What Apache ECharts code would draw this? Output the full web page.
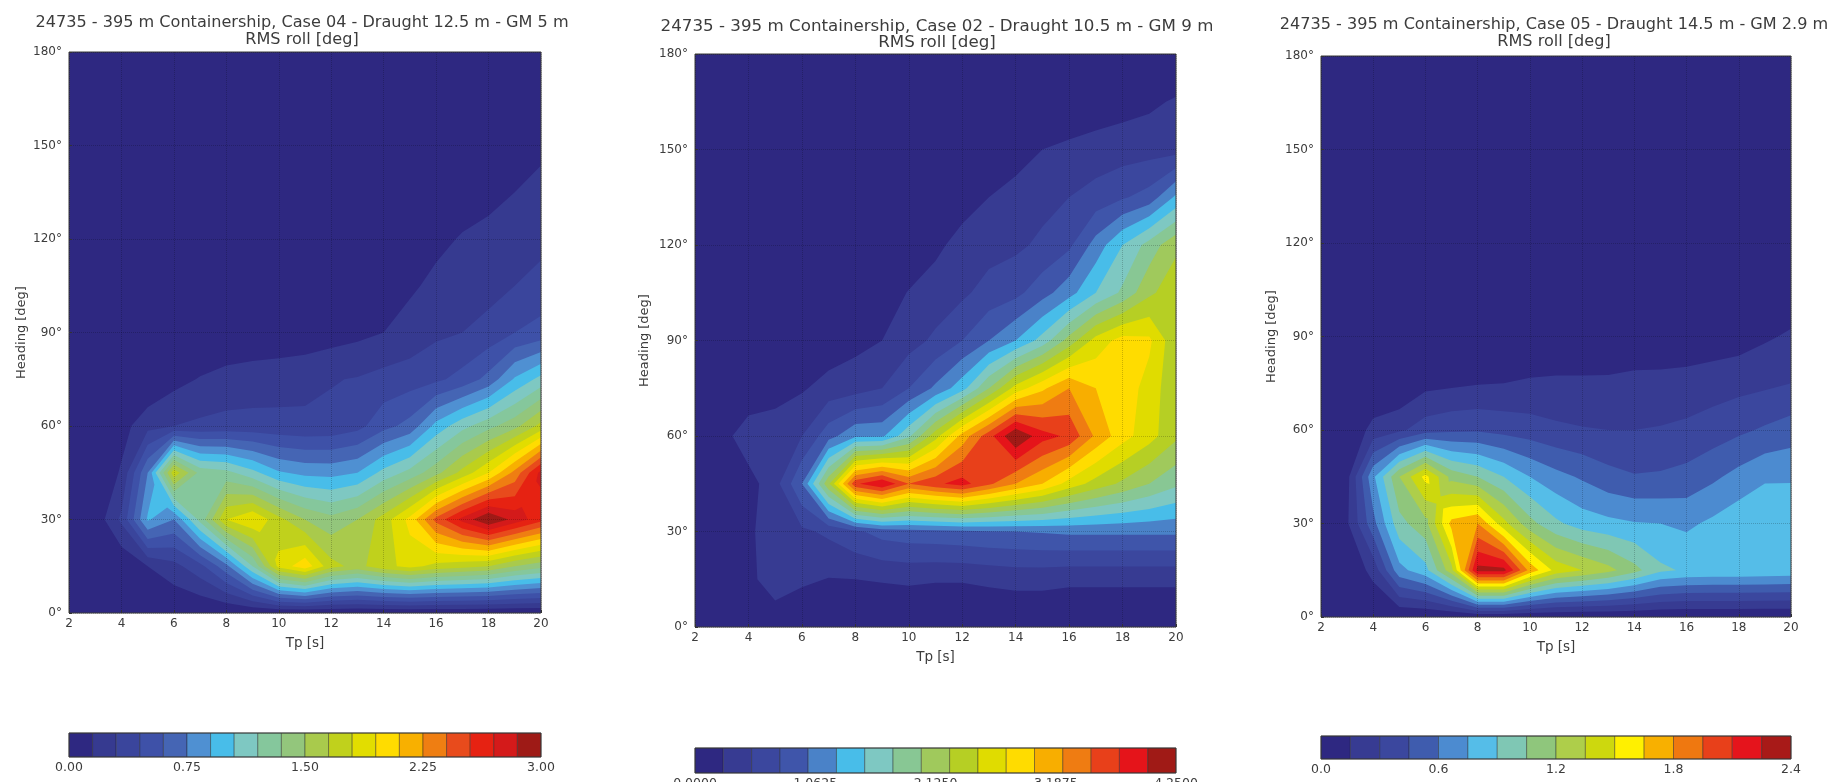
<!DOCTYPE html>
<html><head><meta charset="utf-8">
<style>html,body{margin:0;padding:0;background:#fff;overflow:hidden}#c{width:1832px;height:782px;filter:blur(0.5px)}</style>
<script src="https://cdn.jsdelivr.net/npm/echarts@6/dist/echarts.min.js"></script>
</head><body><div id="c"></div>
<script>
const tpValues = [2,3,4,5,6,7,8,9,10,11,12,13,14,15,16,17,18,19,20];
const headingValues = [0,15,30,45,60,75,90,105,120,135,150,165,180];

const case04 = [
[0,0,0,0,0,0,0,0,0,0,0,0,0,0,0,0,0,0,0],
[0,0,.02,.15,.25,.4,.7,1.2,1.85,2.05,1.7,1.6,1.75,1.85,1.75,1.7,1.65,1.5,1.4],
[0,.05,.33,.92,.75,1.25,1.8,1.95,1.7,1.5,1.4,1.5,1.72,2.0,2.45,2.75,3.0,2.8,2.6],
[0,0,.17,.75,1.75,1.3,1.25,1.1,.92,.86,.85,.9,1.1,1.25,1.45,1.7,1.95,2.3,2.75],
[0,.03,.09,.25,.3,.33,.35,.35,.34,.33,.34,.4,.55,.65,.95,1.15,1.3,1.45,1.7],
[0,0,0,0,.1,.16,.2,.22,.24,.26,.29,.31,.35,.38,.42,.5,.65,.92,1.1],
[0,0,0,0,0,.01,.03,.04,.04,.05,.08,.11,.15,.2,.27,.3,.35,.45,.5],
[0,0,0,0,0,0,0,0,0,0,.02,.04,.08,.13,.18,.22,.25,.3,.36],
[0,0,0,0,0,0,0,0,0,0,0,0,.02,.06,.12,.16,.18,.22,.25],
[0,0,0,0,0,0,0,0,0,0,0,0,0,.01,.05,.09,.12,.15,.19],
[0,0,0,0,0,0,0,0,0,0,0,0,0,0,0,.01,.04,.07,.12],
[0,0,0,0,0,0,0,0,0,0,0,0,0,0,0,0,0,.01,.04],
[0,0,0,0,0,0,0,0,0,0,0,0,0,0,0,0,0,0,0]];

const case02 = [
[0,0,0,0,0,0,0,0,0,0,0,0,0,0,0,0,0,0,0],
[0,0,.15,.45,.3,.24,.25,.27,.29,.27,.27,.3,.33,.33,.3,.3,.3,.3,.3],
[0,.03,.2,.4,.45,.55,.7,.85,.9,.92,.95,.98,1.0,1.02,1.05,1.05,1.05,1.05,1.05],
[0,.03,.15,.4,1.0,2.2,3.7,4.0,3.5,3.7,3.85,3.55,3.25,3.0,2.65,2.4,2.2,2.0,1.8],
[0,.15,.4,.45,.5,.9,1.2,1.2,1.7,2.4,3.1,3.65,4.25,3.85,3.7,3.2,2.85,2.6,2.3],
[0,0,.05,.1,.22,.35,.4,.5,.75,1.05,1.4,2.0,2.6,2.95,3.25,3.0,2.9,2.65,2.3],
[0,0,0,0,.01,.08,.17,.25,.4,.55,.75,1.0,1.25,1.6,2.1,2.6,2.85,2.8,2.3],
[0,0,0,0,0,0,.05,.15,.26,.35,.45,.6,.68,.9,1.15,1.5,1.8,2.2,2.4],
[0,0,0,0,0,0,0,.03,.1,.2,.33,.4,.45,.55,.7,1.1,1.5,1.85,2.2],
[0,0,0,0,0,0,0,0,0,.05,.15,.25,.33,.42,.5,.6,.72,.85,1.3],
[0,0,0,0,0,0,0,0,0,0,0,.05,.15,.25,.3,.35,.38,.4,.4],
[0,0,0,0,0,0,0,0,0,0,0,0,0,.02,.06,.1,.15,.2,.28],
[0,0,0,0,0,0,0,0,0,0,0,0,0,0,0,0,0,0,0]];

const case05 = [
[0,0,0,0,0,0,0,0,0,0,0,0,0,0,0,0,0,0,0],
[0,.02,.2,.7,.85,1.3,2.3,2.3,1.75,1.45,1.35,1.25,1.1,.93,.88,.87,.87,.86,.85],
[0,.13,.55,1.0,1.15,1.7,1.8,1.4,1.1,.93,.83,.79,.76,.75,.72,.78,.85,.87,.88],
[0,.1,.72,1.2,1.55,1.15,1.05,.9,.75,.65,.58,.5,.46,.47,.5,.57,.65,.73,.73],
[0,.02,.2,.27,.38,.42,.43,.4,.37,.33,.31,.3,.3,.31,.33,.37,.42,.47,.52],
[0,0,0,0,.1,.12,.14,.15,.17,.18,.18,.18,.2,.2,.21,.23,.25,.27,.3],
[0,0,0,0,0,0,0,0,0,0,0,.01,.02,.03,.04,.06,.08,.13,.17],
[0,0,0,0,0,0,0,0,0,0,0,0,0,0,0,0,0,.03,.05],
[0,0,0,0,0,0,0,0,0,0,0,0,0,0,0,0,0,0,0],
[0,0,0,0,0,0,0,0,0,0,0,0,0,0,0,0,0,0,0],
[0,0,0,0,0,0,0,0,0,0,0,0,0,0,0,0,0,0,0],
[0,0,0,0,0,0,0,0,0,0,0,0,0,0,0,0,0,0,0],
[0,0,0,0,0,0,0,0,0,0,0,0,0,0,0,0,0,0,0]];

const colors04 = ['#2e2881','#363a90','#3a459c','#3e51a8','#4565b4','#4f90d2','#48bde9','#7ec8c2','#85c79c','#93c67c','#a9ca4c','#c0d11c','#e2dd00','#ffdc00','#f8b000','#ef7e12','#e84b1c','#e62212','#d41a1a','#9e1a16'];
const colors02 = ['#2e2881','#373b92','#3b479e','#3f55aa','#4a82c8','#48bde9','#7ec8c2','#88c794','#a0c95c','#b6cf24','#e0dc00','#ffdc00','#f8ae00','#ef7c12','#e8401a','#e5141a','#a01a16'];
const colors05 = ['#2e2881','#373b92','#3b479e','#3f5cae','#4c8bd0','#55bde8','#7fc7b4','#8fc67c','#aece4a','#cdd80e','#fff000','#f8b000','#ef7810','#e8401a','#e5141c','#a81a18'];

const maxes = [3, 4.25, 2.4];
const decimals = [2, 4, 1];
const titles = [
 '24735 - 395 m Containership, Case 04 - Draught 12.5 m - GM 5 m',
 '24735 - 395 m Containership, Case 02 - Draught 10.5 m - GM 9 m',
 '24735 - 395 m Containership, Case 05 - Draught 14.5 m - GM 2.9 m'];
const subtitle = 'RMS roll [deg]';
const cases = [case04, case02, case05];
const palettes = [colors04, colors02, colors05];
const boxes = [
 {left:69, top:52, width:472, height:561, barTop:733, barH:24, titleTop:10, titleX:297, titleSize:16.1, nameGap:41},
 {left:695, top:54, width:481, height:573, barTop:748, barH:25, titleTop:13, titleX:932, titleSize:16.7, nameGap:44},
 {left:1321, top:56, width:470, height:561, barTop:736, barH:23, titleTop:12, titleX:1549, titleSize:16.1, nameGap:43}];

function clipPoly(poly, L){
  const out=[];
  for(let i=0;i<poly.length;i++){
    const a=poly[i], b=poly[(i+1)%poly.length];
    const ia=a[2]>=L, ib=b[2]>=L;
    if(ia) out.push(a);
    if(ia!==ib){
      const t=(L-a[2])/(b[2]-a[2]);
      out.push([a[0]+t*(b[0]-a[0]), a[1]+t*(b[1]-a[1]), L]);
    }
  }
  return out;
}
function contourRender(grid, palette, step){
  return function(params, api){
    const k=params.dataIndex, level=k===0?-1:k*step;
    const parts=[];
    let minX=1e9,minY=1e9,maxX=-1e9,maxY=-1e9;
    const emit=poly=>{
      if(poly.length<3) return;
      let s='';
      poly.forEach((p,i)=>{
        const q=api.coord([p[0],p[1]]);
        minX=Math.min(minX,q[0]);maxX=Math.max(maxX,q[0]);
        minY=Math.min(minY,q[1]);maxY=Math.max(maxY,q[1]);
        s+=(i?'L':'M')+q[0].toFixed(2)+' '+q[1].toFixed(2);
      });
      parts.push(s+'Z');
    };
    for(let r=0;r<headingValues.length-1;r++){
      for(let c=0;c<tpValues.length-1;c++){
        const x0=tpValues[c],x1=tpValues[c+1],y0=headingValues[r],y1=headingValues[r+1];
        const Q=[[x0,y0,grid[r][c]],[x1,y0,grid[r][c+1]],[x1,y1,grid[r+1][c+1]],[x0,y1,grid[r+1][c]]];
        const inside=Q.map(p=>p[2]>=level);
        const cnt=inside.filter(Boolean).length;
        if(cnt===0) continue;
        const saddle=cnt===2&&inside[0]===inside[2];
        if(saddle){
          const M=[(x0+x1)/2,(y0+y1)/2,(Q[0][2]+Q[1][2]+Q[2][2]+Q[3][2])/4];
          for(let e=0;e<4;e++) emit(clipPoly([Q[e],Q[(e+1)%4],M],level));
        } else emit(clipPoly(Q,level));
      }
    }
    if(!parts.length) return null;
    return {type:'path',silent:true,
      shape:{pathData:parts.join(''),x:minX,y:minY,width:maxX-minX,height:maxY-minY,layout:'cover'},
      style:{fill:palette[k]}};
  };
}
function barRender(palette, step){
  return function(params, api){
    const k=params.dataIndex;
    const a=api.coord([k*step,1]), b=api.coord([(k+1)*step,0]);
    return {type:'rect',silent:true,shape:{x:a[0],y:a[1],width:b[0]-a[0],height:b[1]-a[1]},
      style:{fill:palette[k],stroke:'rgba(30,30,30,0.5)',lineWidth:0.8}};
  };
}
const font='"DejaVu Sans"', txt='#3c3c3c';
const grid=[],xAxis=[],yAxis=[],series=[],title=[];
boxes.forEach((b,i)=>{
  const pal=palettes[i], step=maxes[i]/pal.length;
  grid.push({left:b.left,top:b.top,width:b.width,height:b.height,show:true,z:10,borderColor:'#3a3a3a',borderWidth:1,backgroundColor:'transparent',outerBoundsMode:'none'});
  grid.push({left:b.left,top:b.barTop,width:b.width,height:b.barH,show:true,z:10,borderColor:'#3a3a3a',borderWidth:1,backgroundColor:'transparent',outerBoundsMode:'none'});
  xAxis.push({gridIndex:2*i,type:'value',min:2,max:20,interval:2,z:11,name:'Tp [s]',nameLocation:'middle',nameGap:23.5,
    nameTextStyle:{fontFamily:font,fontSize:13.5,color:txt},
    axisLine:{show:false},axisTick:{inside:true,length:3,lineStyle:{color:'#333'}},
    axisLabel:{fontFamily:font,fontSize:12,color:txt,margin:5},
    splitLine:{show:true,lineStyle:{color:'rgba(0,0,0,0.2)',type:'dotted',width:1}}});
  yAxis.push({gridIndex:2*i,type:'value',min:0,max:180,interval:30,z:11,name:'Heading [deg]',nameLocation:'middle',nameGap:b.nameGap,nameRotate:90,
    nameTextStyle:{fontFamily:font,fontSize:13,color:txt},
    axisLine:{show:false},axisTick:{inside:true,length:3,lineStyle:{color:'#333'}},
    axisLabel:{fontFamily:font,fontSize:12,color:txt,margin:7,formatter:v=>v+'°'},
    splitLine:{show:true,lineStyle:{color:'rgba(0,0,0,0.2)',type:'dotted',width:1}}});
  xAxis.push({gridIndex:2*i+1,type:'value',min:0,max:maxes[i],interval:maxes[i]/4,z:11,
    axisLine:{show:false},axisTick:{show:false},splitLine:{show:false},
    axisLabel:{fontFamily:font,fontSize:12.5,color:txt,margin:4,formatter:v=>v.toFixed(decimals[i])}});
  yAxis.push({gridIndex:2*i+1,type:'value',min:0,max:1,show:false});
  series.push({type:'custom',coordinateSystem:'cartesian2d',xAxisIndex:2*i,yAxisIndex:2*i,z:2,silent:true,clip:true,
    animation:false,data:pal.map((_,k)=>[2,0,k]),renderItem:contourRender(cases[i],pal,step)});
  series.push({type:'custom',coordinateSystem:'cartesian2d',xAxisIndex:2*i+1,yAxisIndex:2*i+1,z:2,silent:true,
    animation:false,data:pal.map((_,k)=>[k*step,0]),renderItem:barRender(pal,step)});
  title.push({text:titles[i]+'\n'+subtitle,left:b.titleX,top:b.titleTop,textAlign:'center',
    textStyle:{fontFamily:font,fontSize:b.titleSize,fontWeight:'normal',color:txt,lineHeight:16.5}});
});
const chart=echarts.init(document.getElementById('c'),null,{renderer:'canvas'});
chart.setOption({animation:false,backgroundColor:'#fff',title,grid,xAxis,yAxis,series,
  graphic:[{type:'rect',z:100,shape:{x:1212,y:6,width:60,height:28},style:{fill:'#fff'}}]});
</script></body></html>
